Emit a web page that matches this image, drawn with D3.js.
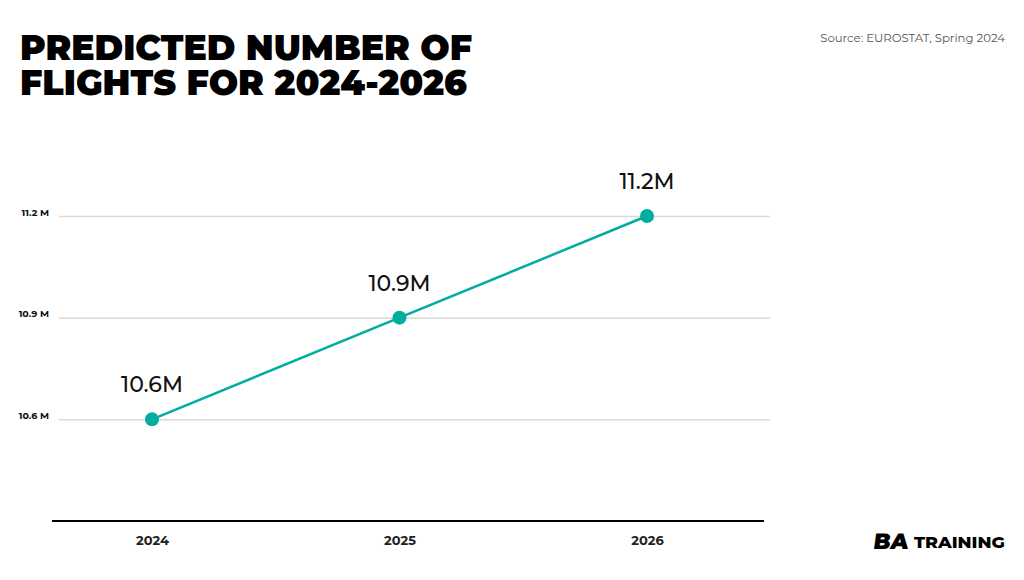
<!DOCTYPE html>
<html><head><meta charset="utf-8">
<script src="https://cdn.jsdelivr.net/npm/d3@7"></script>
<style>body{margin:0;background:#fff}svg{display:block}</style>
</head><body>
<script>
const years = ["2024", "2025", "2026"];
const flights = [10.6, 10.9, 11.2];
const valueLabels = ["10.6M", "10.9M", "11.2M"];
const yTicks = [10.6, 10.9, 11.2];
const yTickLabels = ["10.6 M", "10.9 M", "11.2 M"];

const W = 1024, H = 580;
const svg = d3.select("body").append("svg").attr("width", W).attr("height", H);
const font = "Montserrat, Inter, 'Open Sans', sans-serif";

// title
const title = svg.append("text").attr("font-family", font).attr("font-weight", 900)
  .attr("font-size", 36).attr("fill", "#000");
title.append("tspan").attr("x", 20).attr("y", 60).attr("textLength", 452).attr("lengthAdjust","spacingAndGlyphs").text("PREDICTED NUMBER OF");
title.append("tspan").attr("x", 20).attr("y", 95).attr("textLength", 447).attr("lengthAdjust","spacingAndGlyphs").text("FLIGHTS FOR 2024-2026");

svg.append("text").attr("x", 1005).attr("y", 42).attr("text-anchor", "end")
  .attr("font-family", font).attr("font-size", 11.7).attr("fill", "#555")
  .text("Source: EUROSTAT, Spring 2024");

const x = d3.scalePoint().domain(years).range([152, 647]);
const y = d3.scaleLinear().domain([10.3, 11.2]).range([521, 216]);

// gridlines
const yAxis = d3.axisLeft(y).tickValues(yTicks).tickSize(-(770 - 59))
  .tickFormat((d, i) => yTickLabels[i]).tickPadding(10);
const gy = svg.append("g").attr("transform", "translate(59,0)").call(yAxis);
gy.select(".domain").remove();
gy.selectAll(".tick line").attr("stroke", "#d9d9d9").attr("stroke-width", 1.5);
gy.selectAll(".tick text").attr("font-family", font).attr("font-weight", 700)
  .attr("font-size", 9.5).attr("fill", "#111").attr("dy", "-0.1em");

// x axis
const xAxis = d3.axisBottom(x).tickSize(0).tickPadding(15);
const gx = svg.append("g").attr("transform", "translate(0,521)").call(xAxis);
gx.select(".domain").remove();
svg.append("line").attr("x1", 52).attr("x2", 764).attr("y1", 521).attr("y2", 521)
  .attr("stroke", "#000").attr("stroke-width", 2);
gx.selectAll(".tick text").attr("font-family", font).attr("font-weight", 700)
  .attr("font-size", 13).attr("fill", "#222");

const data = years.map((yr, i) => ({ yr, v: flights[i], label: valueLabels[i] }));
const teal = "#00ADA0";
svg.append("path").datum(data)
  .attr("d", d3.line().x(d => x(d.yr)).y(d => y(d.v)))
  .attr("fill", "none").attr("stroke", teal).attr("stroke-width", 2.5);
svg.selectAll("circle.pt").data(data).join("circle").attr("class", "pt")
  .attr("cx", d => x(d.yr)).attr("cy", d => y(d.v)).attr("r", 7).attr("fill", teal);
svg.selectAll("text.vl").data(data).join("text").attr("class", "vl")
  .attr("x", d => x(d.yr)).attr("y", d => y(d.v) - 27)
  .attr("text-anchor", "middle").attr("font-family", font).attr("font-weight", 500)
  .attr("font-size", 22).attr("fill", "#111").text(d => d.label);

// logo
const logo = svg.append("g");
logo.append("text").attr("x", 873).attr("y", 549).attr("font-family", font)
  .attr("font-weight", 900).attr("font-size", 22).attr("fill", "#000")
  .attr("transform", "skewX(-8) translate(77,0)").text("BA");
logo.append("text").attr("x", 914).attr("y", 548).attr("font-family", font)
  .attr("font-weight", 800).attr("font-size", 17).attr("fill", "#000")
  .attr("textLength", 91).attr("lengthAdjust", "spacingAndGlyphs").text("TRAINING");
</script>
</body></html>
